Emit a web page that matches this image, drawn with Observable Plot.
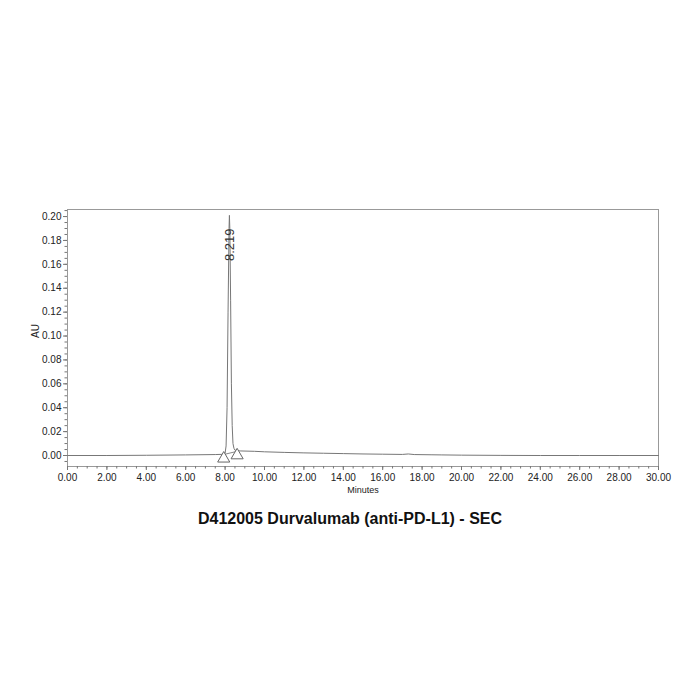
<!DOCTYPE html>
<html>
<head>
<meta charset="utf-8">
<script src="https://cdn.jsdelivr.net/npm/d3@7"></script>
<script src="https://cdn.jsdelivr.net/npm/@observablehq/plot@0.6"></script>
<style>
  body { margin: 0; background: #fff; font-family: "Liberation Sans", Arial, sans-serif; }
  #chart svg { display: block; }
  #title { text-align: center; font-weight: bold; font-size: 16px; color: #111; margin-top: 5px; width: 700px; }
</style>
</head>
<body>
<div id="chart"></div>
<div id="title">D412005 Durvalumab (anti-PD-L1) - SEC</div>
<script>
// Chromatogram trace (minutes, AU)
const time = [0, 2, 4, 6, 7.5, 7.9, 8.0, 8.05, 8.1, 8.15, 8.2, 8.219, 8.24, 8.28, 8.32, 8.36, 8.4, 8.45, 8.5, 8.6, 8.8, 9.5, 10, 11, 12, 13, 14, 15, 16, 17, 17.3, 17.6, 18.5, 19, 20, 22, 24, 26, 28, 30];
const au   = [0, 0, 0.0002, 0.0005, 0.0008, 0.001, 0.002, 0.008, 0.04, 0.12, 0.19, 0.201, 0.19, 0.13, 0.06, 0.025, 0.01, 0.006, 0.0045, 0.004, 0.0038, 0.0035, 0.0031, 0.0026, 0.0022, 0.0019, 0.0016, 0.0013, 0.0011, 0.0009, 0.0013, 0.0008, 0.0006, 0.0005, 0.0003, 0.0001, 0, 0, 0, 0];

// Peak integration markers (start, end)
const markTime = [7.93, 8.61];
const markAU   = [0.0008, 0.0035];

// Peak label
const peakTime = [8.219];
const peakLabel = ["8.219"];
const peakLabelAU = [0.19];

// Axis ticks
const xTicks = d3.range(0, 30.001, 2);
const xMinor = d3.range(0, 30.001, 0.5);
const yTicks = d3.range(0, 0.2001, 0.02);
const yMinor = d3.range(-0.005, 0.2051, 0.005);

const trace = time.map((t, i) => ({t, v: au[i]}));
const marks = markTime.map((t, i) => ({t, v: markAU[i]}));
const peaks = peakTime.map((t, i) => ({t, v: peakLabelAU[i], label: peakLabel[i]}));

const plot = Plot.plot({
  width: 700,
  height: 505,
  marginTop: 209,
  marginBottom: 39,
  marginLeft: 67,
  marginRight: 42,
  style: { fontFamily: "Liberation Sans, Arial, sans-serif", fontSize: "10px", color: "#222", background: "#fff" },
  x: { domain: [0, 30] },
  y: { domain: [-0.0092, 0.2059] },
  marks: [
    Plot.frame({ stroke: "#999" }),
    Plot.axisX({ ticks: xMinor, tickSize: 2.5, tickFormat: null, text: null, stroke: "#777", label: null }),
    Plot.axisX({ ticks: xTicks, tickSize: 4, tickPadding: 3, tickFormat: ".2f", stroke: "#777", label: null }),
    Plot.axisY({ ticks: yMinor, tickSize: 2.5, tickFormat: null, text: null, stroke: "#777", label: null }),
    Plot.axisY({ ticks: yTicks, tickSize: 4, tickPadding: 2, tickFormat: ".2f", stroke: "#777", label: null }),
    Plot.text(["Minutes"], { frameAnchor: "bottom", dy: 26, fontSize: 9, fill: "#222" }),
    Plot.text(["AU"], { frameAnchor: "left", dx: -32, rotate: -90, fontSize: 10, fill: "#222" }),
    Plot.line(marks, { x: "t", y: "v", stroke: "#888", strokeWidth: 1 }),
    Plot.line(trace, { x: "t", y: "v", stroke: "#777", strokeWidth: 1 }),
    Plot.dot(marks, { x: "t", y: "v", symbol: "triangle", r: 4.5, dy: 4, fill: "white", stroke: "#666", strokeWidth: 1 }),
    Plot.text(peaks, { x: "t", y: "v", text: "label", rotate: -90, textAnchor: "end", fontSize: 13, fill: "#333" })
  ]
});
document.getElementById("chart").appendChild(plot);
</script>
</body>
</html>
